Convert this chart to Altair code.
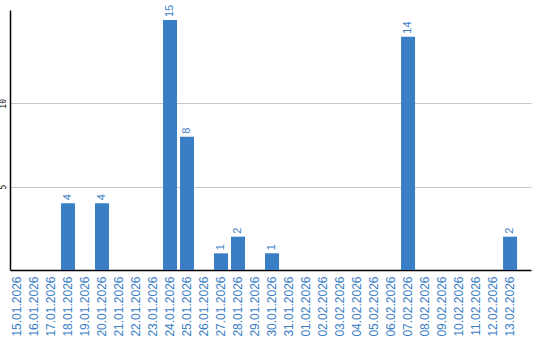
import altair as alt
import pandas as pd

dates = ["15.01.2026", "16.01.2026", "17.01.2026", "18.01.2026", "19.01.2026",
         "20.01.2026", "21.01.2026", "22.01.2026", "23.01.2026", "24.01.2026",
         "25.01.2026", "26.01.2026", "27.01.2026", "28.01.2026", "29.01.2026",
         "30.01.2026", "31.01.2026", "01.02.2026", "02.02.2026", "03.02.2026",
         "04.02.2026", "05.02.2026", "06.02.2026", "07.02.2026", "08.02.2026",
         "09.02.2026", "10.02.2026", "11.02.2026", "12.02.2026", "13.02.2026"]
values = [0, 0, 0, 4, 0, 4, 0, 0, 0, 15,
          8, 0, 1, 2, 0, 1, 0, 0, 0, 0,
          0, 0, 0, 14, 0, 0, 0, 0, 0, 2]

df = pd.DataFrame({"date": dates, "value": values})
BLUE = "#3a7ec6"

x = alt.X("date:N", sort=dates, title=None,
          scale=alt.Scale(paddingInner=3 / 17, paddingOuter=0.41, align=0),
          axis=alt.Axis(labelAngle=270, labelAlign="right", labelBaseline="middle",
                        labelColor=BLUE, labelFontSize=12, labelFont="Liberation Sans",
                        labelPadding=6, ticks=False, domainColor="black",
                        domainWidth=1.5, grid=False, labelOverlap=False))
y = alt.Y("value:Q", title=None,
          scale=alt.Scale(domain=[0, 15.6], nice=False),
          axis=alt.Axis(values=[5, 10], labelAngle=270, labelAlign="center",
                        labelBaseline="bottom", labelFontSize=8,
                        labelFont="DejaVu Sans Mono", labelColor="black",
                        labelPadding=3, ticks=False, domainColor="black",
                        domainWidth=1.5, gridColor="#c8c8c8", gridWidth=1))

bars = alt.Chart(df).mark_bar(color=BLUE).encode(x=x, y=y)
labels = alt.Chart(df).transform_filter("datum.value > 0").mark_text(
    angle=270, align="left", baseline="middle", dx=3, color=BLUE,
    fontSize=11, font="Liberation Sans"
).encode(x=alt.X("date:N", sort=dates), y="value:Q", text="value:Q")

chart = (bars + labels).properties(
    width=521, height=260,
    autosize=alt.AutoSizeParams(type="none"),
    padding={"left": 10, "top": 10, "right": 9, "bottom": 70},
).configure_view(stroke=None)

chart.save("out.html", embed_options={"renderer": "svg", "actions": False})
